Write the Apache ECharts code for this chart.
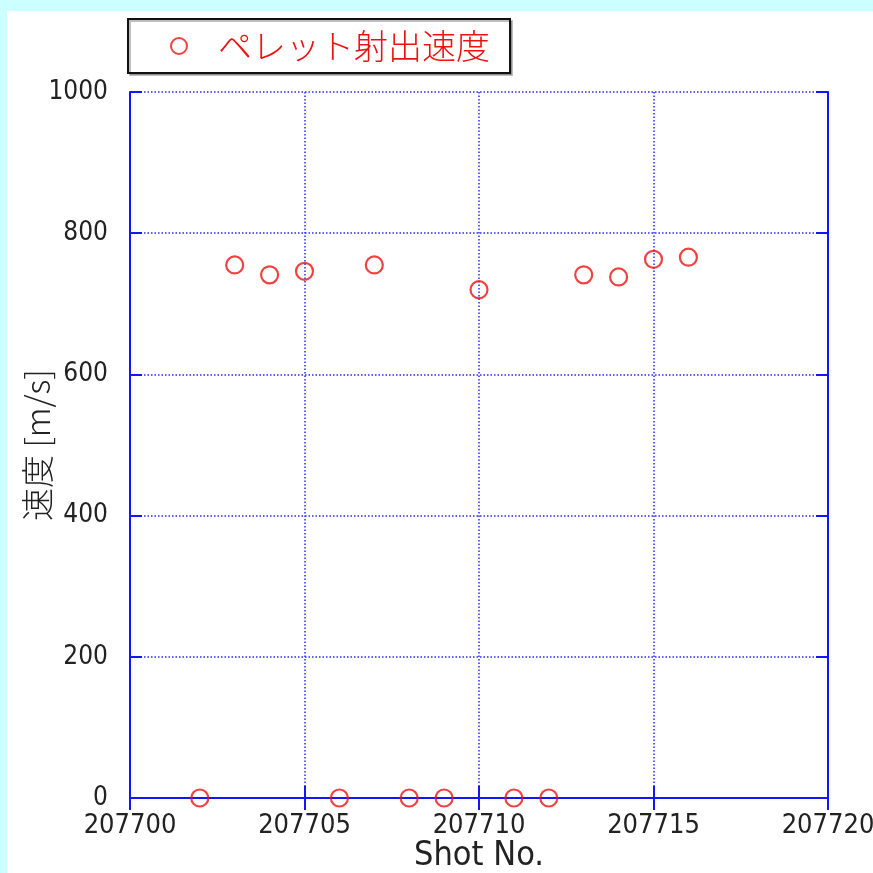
<!DOCTYPE html>
<html>
<head>
<meta charset="utf-8">
<script src="https://cdn.jsdelivr.net/npm/echarts@6/dist/echarts.min.js"></script>
<style>
html,body{margin:0;padding:0;background:#ccffff;}
#c{width:873px;height:873px;}
</style>
</head>
<body>
<div id="c"></div>
<script>
const shotNo = [207702, 207703, 207704, 207705, 207706, 207707, 207708, 207709, 207710, 207711, 207712, 207713, 207714, 207715, 207716];
const velocity = [0, 755, 741, 746, 0, 755, 0, 0, 720, 0, 0, 741, 738, 763, 766];
const seriesName = 'ペレット射出速度';
const xTicks = [207700, 207705, 207710, 207715, 207720];
const yTicks = [0, 200, 400, 600, 800, 1000];

const blue = '#1414ff';
const red = '#ee1111';
const numFont = "'DejaVu Sans Condensed','DejaVu Sans',sans-serif";
const cjkFont = "'Noto Sans CJK JP','Noto Sans',sans-serif";

const chart = echarts.init(document.getElementById('c'));
const data = shotNo.map((x, i) => [x, velocity[i]]);

const gridLine = {show: true, lineStyle: {color: '#2a2aff', type: [1.5, 2], width: 1.5}};
chart.setOption({
  backgroundColor: '#ccffff',
  animation: false,
  graphic: [{
    type: 'rect', z: -10, silent: true,
    shape: {x: 7, y: 11, width: 866, height: 862},
    style: {fill: '#ffffff'}
  }],
  grid: {left: 130, right: 45, top: 92, bottom: 75, show: false, containLabel: false, outerBoundsMode: 'none'},
  legend: {
    left: 128, top: 19,
    padding: [10, 20, 10, 42],
    borderColor: '#111', borderWidth: 2,
    backgroundColor: '#fff',
    shadowColor: 'rgba(0,0,0,0.25)', shadowOffsetX: 2, shadowOffsetY: 2,
    itemWidth: 16, itemHeight: 16,
    icon: 'circle',
    itemStyle: {color: '#fff', borderColor: red, borderWidth: 2},
    textStyle: {color: red, fontSize: 34, fontFamily: cjkFont, fontWeight: 300, padding: [0, 0, 0, 26]},
    data: [seriesName]
  },
  xAxis: [{
    type: 'value', min: 207700, max: 207720, interval: 5,
    position: 'bottom',
    name: 'Shot No.', nameLocation: 'middle', nameGap: 41, nameMoveOverlap: false,
    nameTextStyle: {fontSize: 34, color: '#222', fontFamily: numFont},
    axisLine: {show: true, lineStyle: {color: blue, width: 2}},
    axisTick: {show: true, inside: true, length: 12, lineStyle: {color: blue, width: 2}},
    axisLabel: {fontSize: 27, color: '#222', fontFamily: numFont, margin: 14,
      formatter: v => xTicks.includes(v) ? String(v) : ''},
    splitLine: gridLine
  }, {
    type: 'value', min: 207700, max: 207720, interval: 5,
    position: 'top',
    axisLine: {show: true, lineStyle: {color: blue, width: 2}},
    axisTick: {show: true, inside: true, length: 12, lineStyle: {color: blue, width: 2}},
    axisLabel: {show: false},
    splitLine: {show: false}
  }],
  yAxis: [{
    type: 'value', min: 0, max: 1000, interval: 200,
    name: '速度 [m/s]', nameLocation: 'middle', nameGap: 76, nameRotate: 90, nameMoveOverlap: false,
    nameTextStyle: {fontSize: 33, color: '#222', fontFamily: cjkFont, fontWeight: 300},
    axisLine: {show: true, lineStyle: {color: blue, width: 2}},
    axisTick: {show: true, inside: true, length: 12, lineStyle: {color: blue, width: 2}},
    axisLabel: {fontSize: 26, color: '#222', fontFamily: numFont, margin: 22,
      formatter: v => yTicks.includes(v) ? String(v) : ''},
    splitLine: gridLine
  }, {
    type: 'value', min: 0, max: 1000, interval: 200,
    position: 'right',
    axisLine: {show: true, lineStyle: {color: blue, width: 2}},
    axisTick: {show: true, inside: true, length: 12, lineStyle: {color: blue, width: 2}},
    axisLabel: {show: false},
    splitLine: {show: false}
  }],
  series: [{
    name: seriesName,
    type: 'scatter',
    xAxisIndex: 0, yAxisIndex: 0,
    symbol: 'circle', symbolSize: 17,
    itemStyle: {color: 'rgba(255,255,255,0)', borderColor: red, borderWidth: 2.2},
    data: data,
    z: 5
  }]
});
</script>
</body>
</html>
